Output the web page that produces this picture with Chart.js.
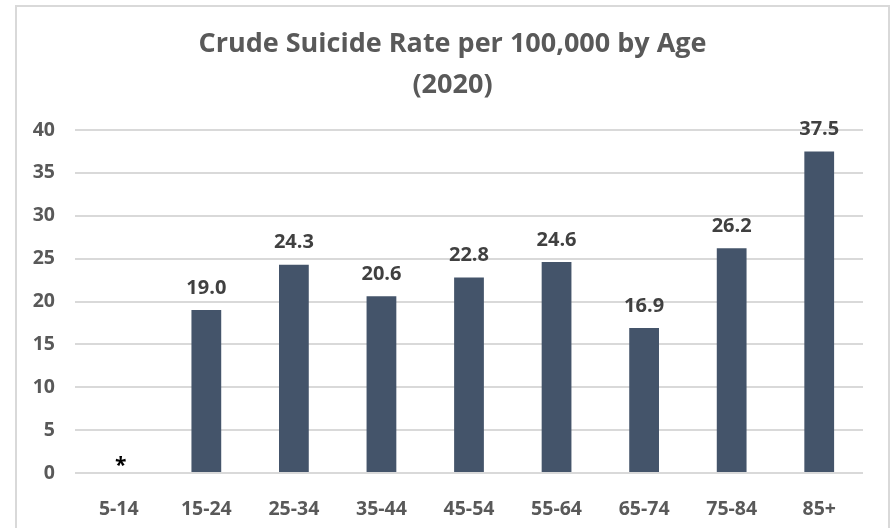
<!DOCTYPE html>
<html>
<head>
<meta charset="utf-8">
<title>Crude Suicide Rate per 100,000 by Age (2020)</title>
<script src="https://cdn.jsdelivr.net/npm/chart.js@4/dist/chart.umd.min.js"></script>
<style>
  html, body { margin:0; padding:0; background:#fff; overflow:hidden; }
  #wrap { position:relative; width:891px; height:528px; }
  #frame { position:absolute; left:15px; top:5px; width:875px; height:600px; box-sizing:border-box; border:2px solid #d9d9d9; }
  #chart { position:absolute; left:0; top:0; }
</style>
</head>
<body>
<div id="wrap">
  <div id="frame"></div>
  <canvas id="chart" width="891" height="528"></canvas>
</div>
<script>
// Data
const ageGroups = ["5-14","15-24","25-34","35-44","45-54","55-64","65-74","75-84","85+"];
const rates = [null, 19.0, 24.3, 20.6, 22.8, 24.6, 16.9, 26.2, 37.5];
const suppressedMark = "*"; // shown where the rate is not reported
const yTicks = { min:0, max:40, step:5 };
const titleLines = ["Crude Suicide Rate per 100,000 by Age", "(2020)"];

const FONT = "'Open Sans', 'Noto Sans', sans-serif";

// title centred on the outer frame (not on the canvas), like the original
const frameTitle = {
  id: "frameTitle",
  afterDraw(chart){
    const ctx = chart.ctx;
    const cx = (15 + 890) / 2;
    ctx.save();
    ctx.fillStyle = "#595959";
    ctx.font = "bold 27px " + FONT;
    ctx.textAlign = "center";
    ctx.textBaseline = "middle";
    titleLines.forEach((t, i)=> ctx.fillText(t, cx, 44 + i * 41));
    ctx.restore();
  }
};

// draws the value above each bar (or the * mark when missing)
const valueLabels = {
  id: "valueLabels",
  afterDatasetsDraw(chart){
    const ctx = chart.ctx;
    const meta = chart.getDatasetMeta(0);
    const y = chart.scales.y;
    ctx.save();
    ctx.textAlign = "center";
    ctx.textBaseline = "middle";
    meta.data.forEach((bar, i)=>{
      const v = rates[i];
      if (v === null || v === undefined){
        ctx.fillStyle = "#000";
        ctx.font = "bold 21px " + FONT;
        ctx.fillText(suppressedMark, bar.x + 2, y.getPixelForValue(0) - 7);
      } else {
        ctx.fillStyle = "#404040";
        ctx.font = "bold 20px " + FONT;
        ctx.fillText(v.toFixed(1), bar.x, y.getPixelForValue(v) - 22);
      }
    });
    ctx.restore();
  }
};

new Chart(document.getElementById("chart").getContext("2d"), {
  type: "bar",
  data: {
    labels: ageGroups,
    datasets: [{ data: rates, backgroundColor: "#44546A", barPercentage: 0.34, categoryPercentage: 1.0 }]
  },
  options: {
    responsive: false,
    devicePixelRatio: 1,
    animation: false,
    layout: { padding: { left:20, right:28, top:130, bottom:0 } },
    plugins: {
      legend: { display:false },
      tooltip: { enabled:false },
      title: { display:false }
    },
    scales: {
      x: {
        grid: { display:false },
        border: { display:false },
        ticks: { color:"#595959", font:{ family:FONT, size:19.5, weight:"bold" }, padding:17, maxRotation:0 },
        afterFit(s){ s.height = 55; }
      },
      y: {
        min: yTicks.min, max: yTicks.max,
        grid: { color:"#d9d9d9", lineWidth:2, drawTicks:false },
        border: { display:false },
        ticks: { stepSize: yTicks.step, color:"#595959", font:{ family:FONT, size:19.5, weight:"bold" }, padding:20 },
        afterFit(s){ s.width = 55; }
      }
    }
  },
  plugins: [valueLabels, frameTitle]
});
</script>
</body>
</html>
